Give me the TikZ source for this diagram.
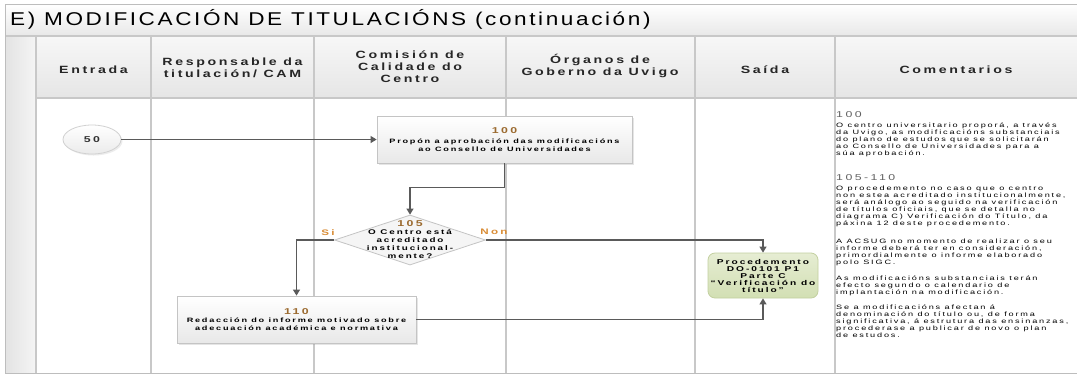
\documentclass[tikz,border=0pt]{standalone}
\usepackage{fontspec}
\setmainfont{Liberation Sans}
\newfontfamily\ttlfont[FakeStretch=1.22,LetterSpace=14]{Liberation Sans}
\newfontfamily\hdrfont[FakeStretch=1.35,LetterSpace=25]{Liberation Sans}
\newfontfamily\smlfont[FakeStretch=1.45,LetterSpace=29]{Liberation Sans}
\newfontfamily\boxfont[FakeStretch=1.45,LetterSpace=28]{Liberation Sans}
\usetikzlibrary{shapes.geometric,arrows.meta,shadows,calc}
\definecolor{gridc}{HTML}{C8C8C8}
\definecolor{framec}{HTML}{BDBDBD}
\definecolor{connc}{HTML}{5A5A5A}
\definecolor{numc}{HTML}{9B6A2F}
\definecolor{lblc}{HTML}{D98C35}
\definecolor{boxline}{HTML}{C4C4C4}
\definecolor{greentop}{HTML}{E6EDD3}
\definecolor{greenbot}{HTML}{D2DFB3}
\definecolor{greenline}{HTML}{C3D0A0}
\definecolor{cmthead}{HTML}{606060}
\newcommand{\numtxt}[1]{{\fontsize{8.5}{9}\selectfont\color{numc}#1}}
\tikzset{
  gridline/.style={draw=gridc, line width=1.1pt},
  flowbox/.style={draw=boxline, line width=0.8pt, top color=white, bottom color=black!9,
    drop shadow={shadow xshift=1.5pt, shadow yshift=-1.5pt, opacity=.2},
    align=center, inner sep=0pt, font=\boxfont\bfseries\fontsize{6.3}{7.8}\selectfont},
  decision/.style={diamond, draw=boxline, line width=0.8pt, fill=black!4, inner sep=0pt},
  startnode/.style={ellipse, draw=black!18, line width=0.8pt, top color=white, bottom color=black!8,
    drop shadow={shadow xshift=1.5pt, shadow yshift=-1.5pt, opacity=.15}, inner sep=0pt},
  outbox/.style={draw=greenline, line width=0.8pt, rounded corners=7pt, top color=greentop, bottom color=greenbot,
    align=center, inner sep=0pt, font=\boxfont\bfseries\fontsize{7}{7}\selectfont},
  flowline/.style={draw=connc, line width=1.1pt, -{Triangle[width=7pt,length=6pt]}},
  hdr/.style={align=center, font=\hdrfont\bfseries\fontsize{10.5}{12}\selectfont, text=black!85},
  cmt/.style={align=left, anchor=north west, inner sep=0pt, font=\smlfont\fontsize{6.3}{6.9}\selectfont},
  cmthd/.style={anchor=west, inner sep=0pt, font=\smlfont\fontsize{8.5}{9}\selectfont, text=cmthead},
  lbl/.style={font=\boxfont\bfseries\fontsize{8}{9}\selectfont, text=lblc, inner sep=0pt}
}
\begin{document}
\begin{tikzpicture}[x=1pt,y=-1pt]
\useasboundingbox (0,0) rectangle (1077,376);
\fill[white] (0,0) rectangle (1077,376);
% title band
\shade[top color=white,bottom color=black!9] (5,4) rectangle (1077,36);
% header row
\shade[top color=black!3,bottom color=black!10] (36,36) rectangle (1077,98);
% left strip
\shade[left color=black!11,right color=black!4] (5,36) rectangle (36,373);
% grid
\foreach \x in {151,314,506,695,835} \draw[gridline] (\x,36) -- (\x,373);
\draw[gridline] (36,98) -- (1077,98);
\draw[gridline] (5,36) -- (1077,36);
\draw[gridline] (36,36) -- (36,373);
\draw[framec, line width=1pt] (5,4) rectangle (1077,373);

\node[anchor=west, inner sep=0pt, font=\ttlfont\fontsize{18.5}{22}\selectfont] (title) at (10,19) {E) MODIFICACIÓN DE TITULACIÓNS (continuación)};

\node[hdr] (hEnt) at (93.5,70) {Entrada};
\node[hdr] (hResp) at (232.5,68) {Responsable da\\titulación/ CAM};
\node[hdr] (hCom) at (410,67) {Comisión de\\Calidade do\\Centro};
\node[hdr] (hOrg) at (600,66) {Órganos de\\Goberno da Uvigo};
\node[hdr] (hSai) at (765,70) {Saída};
\node[hdr] (hCmt) at (956,70) {Comentarios};

% flow
\node[startnode, minimum width=58pt, minimum height=29pt, font=\boxfont\bfseries\fontsize{8.5}{9}\selectfont, text=black!80] (e50) at (92,139.5) {50};
\node[flowbox, minimum width=255pt, minimum height=47pt] (b100) at (504.5,139.5)
  {\numtxt{100}\\[2pt]Propón a aprobación das modificacións\\ao Consello de Universidades};
\node[decision, minimum width=151pt, minimum height=50pt] (d105) at (410,240) {};
\node[align=center, inner sep=0pt, font=\boxfont\bfseries\fontsize{6.8}{8}\selectfont] (t105) at (410,240)
  {\numtxt{105}\\O Centro está\\acreditado\\institucional-\\mente?};
\node[flowbox, minimum width=239pt, minimum height=47pt] (b110) at (296.5,319.5)
  {\numtxt{110}\\[1pt]Redacción do informe motivado sobre\\adecuación académica e normativa};
\node[outbox, minimum width=110pt, minimum height=45pt] (sal) at (763,275.5)
  {Procedemento\\DO-0101 P1\\Parte C\\“Verificación do\\título”};

\draw[flowline] (e50.east) -- (b100.west);
\draw[flowline] (b100.south) -- ++(0,24) coordinate (k1) -| (d105.north);
\draw[flowline] (d105.west) -| (b110.north);
\draw[flowline] (d105.east) -| (sal.north);
\draw[flowline] (b110.east) -| (sal.south);
\node[lbl] (lsi) at (328,233) {Si};
\node[lbl] (lnon) at (494,232) {Non};

% comments
\node[cmthd] (ch1) at (836,115) {100};
\node[cmt] (c1) at (836,123) {O centro universitario proporá, a través\\da Uvigo, as modificacións substanciais\\do plano de estudos que se solicitarán\\ao Consello de Universidades para a\\súa aprobación.};
\node[cmthd] (ch2) at (836,178) {105-110};
\node[cmt] (c2) at (836,186) {O procedemento no caso que o centro\\non estea acreditado institucionalmente,\\será análogo ao seguido na verificación\\de títulos oficiais, que se detalla no\\diagrama C) Verificación do Título, da\\páxina 12 deste procedemento.};
\node[cmt] (c3) at (836,239) {A ACSUG no momento de realizar o seu\\informe deberá ter en consideración,\\primordialmente o informe elaborado\\polo SIGC.};
\node[cmt] (c4) at (836,276) {As modificacións substanciais terán\\efecto segundo o calendario de\\implantación na modificación.};
\node[cmt] (c5) at (836,305) {Se a modificacións afectan á\\denominación do título ou, de forma\\significativa, á estrutura das ensinanzas,\\procederase a publicar de novo o plan\\de estudos.};
\end{tikzpicture}
\end{document}
